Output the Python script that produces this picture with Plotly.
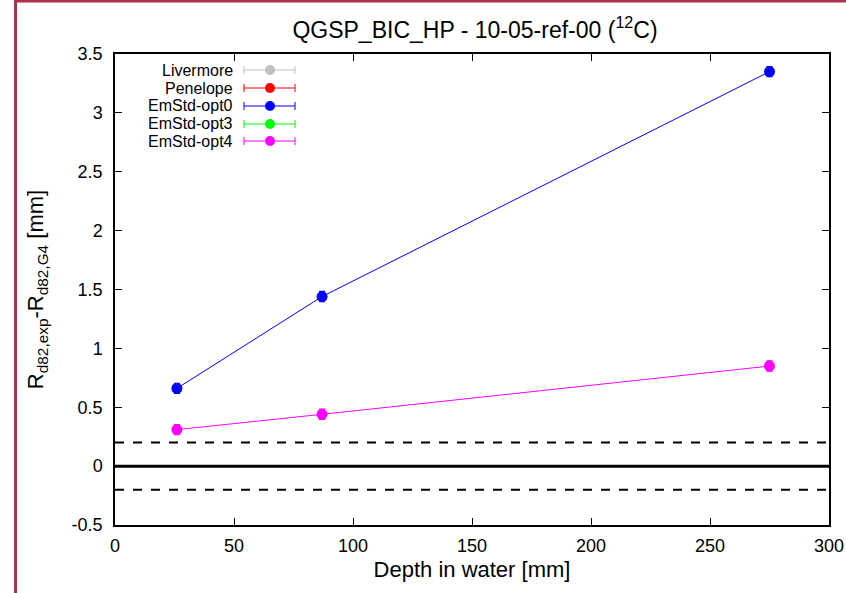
import plotly.graph_objects as go

# ---- data ----
series_names = ["Livermore", "Penelope", "EmStd-opt0", "EmStd-opt3", "EmStd-opt4"]
series_colors = ["#c0c0c0", "#ff0000", "#0000ff", "#00ff00", "#ff00ff"]
depth = [26, 87, 275]
values = {
    "Livermore": [],
    "Penelope": [],
    "EmStd-opt0": [0.66, 1.44, 3.35],
    "EmStd-opt3": [],
    "EmStd-opt4": [0.31, 0.44, 0.85],
}
errors = {
    "EmStd-opt0": [0.04, 0.04, 0.04],
    "EmStd-opt4": [0.04, 0.04, 0.04],
}
band_levels = [0.2, -0.2]
x_ticks = [0, 50, 100, 150, 200, 250, 300]
y_ticks = [-0.5, 0, 0.5, 1, 1.5, 2, 2.5, 3, 3.5]
y_tick_labels = ["-0.5", "0", "0.5", "1", "1.5", "2", "2.5", "3", "3.5"]

W, H = 846, 593
L, R, T, B = 115, 17, 54, 68
pw, ph = W - L - R, H - T - B

def px_x(px):
    return (px - L) / pw

def px_y(py):
    return (H - B - py) / ph

fig = go.Figure()

for name, col in zip(series_names, series_colors):
    ys = values[name]
    if not ys:
        continue
    fig.add_trace(go.Scatter(
        x=depth[:len(ys)], y=ys, mode="lines+markers", name=name,
        line=dict(color=col, width=1),
        marker=dict(color=col, size=11),
        error_y=dict(type="data", array=errors[name], color=col, thickness=2, width=3),
        showlegend=False,
    ))

shapes = []
# reference lines
shapes.append(dict(type="line", xref="paper", x0=0, x1=1, yref="y", y0=0, y1=0,
                   line=dict(color="black", width=3)))
for lv in band_levels:
    shapes.append(dict(type="line", xref="paper", x0=0, x1=1, yref="y", y0=lv, y1=lv,
                       line=dict(color="black", width=2, dash="dash")))

# custom legend: text right-aligned, then error-bar style key
annotations = []
row_y = [70, 88, 106, 124, 141]
for name, col, ry in zip(series_names, series_colors, row_y):
    annotations.append(dict(text=name, xref="paper", yref="paper", x=px_x(235), y=px_y(ry),
                            xanchor="right", yanchor="middle", showarrow=False,
                            font=dict(size=16, color="black")))
    yy = px_y(ry)
    shapes.append(dict(type="line", xref="paper", yref="paper", x0=px_x(244), x1=px_x(295),
                       y0=yy, y1=yy, line=dict(color=col, width=1)))
    for cx in (244, 295):
        shapes.append(dict(type="line", xref="paper", yref="paper", x0=px_x(cx), x1=px_x(cx),
                           y0=px_y(ry - 4), y1=px_y(ry + 4), line=dict(color=col, width=1)))
    shapes.append(dict(type="circle", xref="paper", yref="paper", xsizemode="pixel",
                       ysizemode="pixel", xanchor=px_x(270), yanchor=yy,
                       x0=-5, x1=5, y0=-5, y1=5, fillcolor=col, line=dict(color=col, width=0)))

# window frame in dark red
frame = "#b0304a"
shapes.append(dict(type="line", xref="paper", yref="paper", x0=px_x(15.5), x1=px_x(15.5),
                   y0=px_y(0), y1=px_y(593), line=dict(color=frame, width=3)))
shapes.append(dict(type="line", xref="paper", yref="paper", x0=px_x(14), x1=px_x(846),
                   y0=px_y(1), y1=px_y(1), line=dict(color=frame, width=3)))

fig.update_layout(
    width=W, height=H,
    margin=dict(l=L, r=R, t=T, b=B, autoexpand=False),
    paper_bgcolor="white", plot_bgcolor="white",
    font=dict(family="Liberation Sans, Arial, sans-serif", color="black"),
    title=dict(text="QGSP_BIC_HP - 10-05-ref-00 (<sup>12</sup>C)", xref="container",
               x=475 / W, xanchor="center",
               y=1 - 30 / H, yanchor="middle", font=dict(size=23)),
    shapes=shapes, annotations=annotations,
    showlegend=False,
)
fig.update_xaxes(range=[0, 300], tickvals=x_ticks, ticks="inside", ticklen=7,
                 tickcolor="black", tickwidth=1, showline=True, linecolor="black", linewidth=1.5,
                 mirror="ticks", showgrid=False, zeroline=False, tickfont=dict(size=18),
                 ticklabelstandoff=4,
                 title=dict(text="Depth in water [mm]", font=dict(size=22), standoff=6))
fig.update_yaxes(range=[-0.5, 3.5], tickvals=y_ticks, ticktext=y_tick_labels, ticks="inside",
                 ticklen=7, tickcolor="black", tickwidth=1, showline=True, linecolor="black",
                 linewidth=1.5, mirror="ticks", showgrid=False, zeroline=False,
                 tickfont=dict(size=18), ticklabelstandoff=7,
                 title=dict(text="R<sub>d82,exp</sub>-R<sub>d82,G4</sub> [mm]", font=dict(size=22),
                            standoff=22))

fig.write_html("out.html", config={"displayModeBar": False},
               post_script="document.body.style.margin='0';document.body.style.overflow='hidden';")
